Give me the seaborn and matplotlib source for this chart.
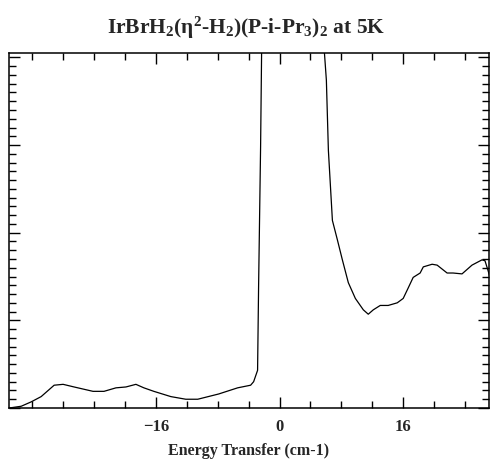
import numpy as np
import pandas as pd
import matplotlib
matplotlib.use("Agg")
import matplotlib.pyplot as plt
from matplotlib.ticker import FixedLocator, MultipleLocator
import seaborn as sns

# spectrum (peak goes off scale)
energy = [-34.97, -33.42, -32.13, -30.84, -29.16, -28.0, -26.58, -24.13, -22.71,
          -21.16, -19.87, -18.58, -17.55, -16.26, -14.06, -12.13, -10.58, -7.87,
          -5.42, -3.74, -3.35, -2.84, -2.71, -2.45, -2.32, -2.1, 0.0, 2.0, 5.6,
          5.81, 6.06, 6.32, 6.84, 7.48, 8.13, 8.90, 9.81, 10.84, 11.48, 12.13,
          13.03, 14.06, 15.23, 16.0, 16.65, 17.29, 18.19, 18.6, 19.74, 20.39,
          21.68, 22.45, 23.61, 24.9, 26.19, 26.58, 26.97, 27.23]
intensity = [0.0, 0.02, 0.07, 0.13, 0.26, 0.27, 0.24, 0.19, 0.19,
             0.23, 0.24, 0.27, 0.23, 0.19, 0.13, 0.10, 0.10, 0.16,
             0.23, 0.26, 0.30, 0.43, 1.38, 2.98, 4.05, 6.0, 30.0, 30.0, 6.0,
             4.05, 3.74, 2.94, 2.14, 1.92, 1.69, 1.43, 1.25, 1.12, 1.07, 1.12,
             1.17, 1.17, 1.20, 1.25, 1.37, 1.49, 1.54, 1.61, 1.64, 1.63,
             1.54, 1.54, 1.53, 1.63, 1.69, 1.68, 1.57, 1.49]
xticks = [-16, 0, 16]

df = pd.DataFrame({"energy": energy, "intensity": intensity})

sns.set_style("ticks")
plt.rcParams["font.family"] = ["Liberation Serif", "DejaVu Serif"]
plt.rcParams["font.weight"] = "bold"
plt.rcParams["mathtext.fontset"] = "custom"
plt.rcParams["mathtext.rm"] = "Liberation Serif:bold"
plt.rcParams["mathtext.it"] = "Liberation Serif:bold"
plt.rcParams["mathtext.bf"] = "Liberation Serif:bold"
plt.rcParams["mathtext.default"] = "rm"

fig = plt.figure(figsize=(4.92, 4.68), dpi=100)
ax = fig.add_axes([9 / 492, 60 / 468, 480 / 492, 355 / 468])

sns.lineplot(data=df, x="energy", y="intensity", color="black", linewidth=0.9,
             sort=False, ax=ax)

ax.set_xlim(-35, 27.1)
ax.set_ylim(0, 4.05)
ax.xaxis.set_major_locator(FixedLocator(xticks))
ax.xaxis.set_minor_locator(MultipleLocator(4))
ax.yaxis.set_major_locator(MultipleLocator(1))
ax.yaxis.set_minor_locator(MultipleLocator(0.1))
ax.tick_params(which="both", direction="in", top=True, right=True, color="black")
ax.tick_params(which="major", length=8, width=1)
ax.tick_params(which="minor", length=5, width=1)
ax.tick_params(axis="y", labelleft=False)
ax.tick_params(axis="x", labelsize=12, pad=8)
for s in ax.spines.values():
    s.set_linewidth(1.1)
    s.set_color("black")

ax.set_ylabel("")
ax.set_xlabel("Energy Transfer (cm-1)", fontsize=11.5, fontweight="bold", labelpad=6)
fig.text(0.5, 1 - 28 / 468, r"IrBrH$_2$(η$^2$-H$_2$)(P-i-Pr$_3$)$_2$ at 5K",
         ha="center", va="center", fontsize=15.5, fontweight="bold")

fig.savefig("out.png", dpi=100)
